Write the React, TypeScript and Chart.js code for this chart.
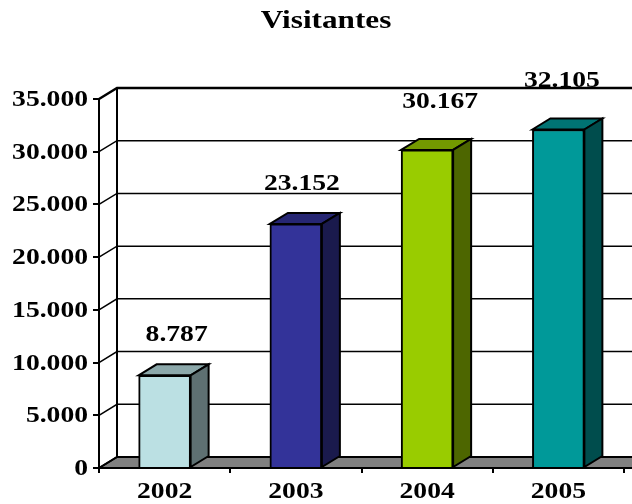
import React, { useEffect, useRef } from "react";
import { Chart, registerables } from "chart.js";

Chart.register(...registerables);

const categories = ["2002", "2003", "2004", "2005"];
const visitors = [8787, 23152, 30167, 32105];
const frontColors = ["#BBE0E3", "#333399", "#99CC00", "#009999"];
const topColors = ["#8CA8AA", "#262673", "#739900", "#007373"];
const sideColors = ["#5E7072", "#1A1A4D", "#4D6600", "#004D4D"];

const DEPTH_X = 18;
const DEPTH_Y = 11;
const FONT = "bold 23px 'Liberation Serif'";
const TITLE_FONT = "bold 26px 'Liberation Serif'";
const STRETCH = 1.2;
// label placement relative to each bar's top centre
const labelDx = [12, 6, 13, 3.5];
const labelDy = [40, 40, 48, 48];

const fmt = (v: number) => v.toLocaleString("de-DE");

function wideText(ctx: CanvasRenderingContext2D, text: string, x: number, y: number, font: string, align: CanvasTextAlign) {
  ctx.save();
  ctx.translate(x, y);
  ctx.scale(STRETCH, 1);
  ctx.font = font;
  ctx.fillStyle = "#000";
  ctx.textAlign = align;
  ctx.textBaseline = "middle";
  ctx.fillText(text, 0, 0);
  ctx.restore();
}

function poly(ctx: CanvasRenderingContext2D, pts: number[][], fill: string) {
  ctx.beginPath();
  pts.forEach((p, i) => (i ? ctx.lineTo(p[0], p[1]) : ctx.moveTo(p[0], p[1])));
  ctx.closePath();
  ctx.fillStyle = fill;
  ctx.fill();
  ctx.strokeStyle = "#000";
  ctx.lineWidth = 2;
  ctx.stroke();
}

const box3d = {
  id: "box3d",
  beforeDraw(chart: any) {
    const { ctx, scales } = chart;
    const { x, y } = scales;
    const w = chart.width + 30;
    ctx.save();
    const y0 = y.getPixelForValue(0);
    poly(ctx, [[x.left, y0], [x.left + DEPTH_X, y0 - DEPTH_Y], [w, y0 - DEPTH_Y], [w, y0]], "#808080");
    ctx.strokeStyle = "#000";
    y.ticks.forEach((t: any) => {
      const py = y.getPixelForValue(t.value);
      ctx.lineWidth = t.value === y.max ? 2.5 : 1.5;
      ctx.beginPath();
      ctx.moveTo(x.left, py);
      ctx.lineTo(x.left + DEPTH_X, py - DEPTH_Y);
      if (t.value !== 0) ctx.lineTo(w, py - DEPTH_Y);
      ctx.stroke();
    });
    ctx.lineWidth = 2;
    ctx.beginPath();
    ctx.moveTo(x.left + DEPTH_X, y.top - DEPTH_Y);
    ctx.lineTo(x.left + DEPTH_X, y0 - DEPTH_Y);
    ctx.stroke();
    ctx.restore();
  },
  afterDatasetsDraw(chart: any) {
    const { ctx } = chart;
    ctx.save();
    ctx.lineJoin = "miter";
    chart.getDatasetMeta(0).data.forEach((bar: any, i: number) => {
      const half = bar.width / 2;
      const l = bar.x - half;
      const r = bar.x + half;
      const t = bar.y;
      const b = bar.base;
      poly(ctx, [[l, t], [l + DEPTH_X, t - DEPTH_Y], [r + DEPTH_X, t - DEPTH_Y], [r, t]], topColors[i]);
      poly(ctx, [[r, t], [r + DEPTH_X, t - DEPTH_Y], [r + DEPTH_X, b - DEPTH_Y], [r, b]], sideColors[i]);
    });
    ctx.restore();
  },
  afterDraw(chart: any) {
    const { ctx, scales } = chart;
    const { x, y } = scales;
    y.ticks.forEach((t: any) => {
      wideText(ctx, t.label, 88, y.getPixelForValue(t.value) + 1, FONT, "right");
    });
    categories.forEach((c, i) => {
      wideText(ctx, c, x.getPixelForValue(i), 492, FONT, "center");
    });
    chart.getDatasetMeta(0).data.forEach((bar: any, i: number) => {
      wideText(ctx, fmt(visitors[i]), bar.x + labelDx[i], bar.y - labelDy[i], FONT, "center");
    });
    wideText(ctx, "Visitantes", chart.width / 2 + 10, 21, TITLE_FONT, "center");
  },
};

export default function App() {
  const ref = useRef<HTMLCanvasElement>(null);
  useEffect(() => {
    const chart = new Chart(ref.current!, {
      type: "bar",
      data: {
        labels: categories,
        datasets: [
          {
            data: visitors,
            backgroundColor: frontColors,
            borderColor: "#000",
            borderWidth: 2,
            barThickness: 52,
          },
        ],
      },
      options: {
        responsive: false,
        animation: false,
        layout: { padding: { left: 93, right: 8, top: 99, bottom: 31 } },
        plugins: { legend: { display: false }, tooltip: { enabled: false }, title: { display: false } },
        scales: {
          x: {
            grid: { drawOnChartArea: false, drawTicks: true, tickLength: 5, color: "#000", lineWidth: 2 },
            border: { color: "#000", width: 2 },
            ticks: { display: false },
          },
          y: {
            min: 0,
            max: 35000,
            grid: { drawOnChartArea: false, drawTicks: true, tickLength: 6, color: "#000", lineWidth: 2 },
            border: { color: "#000", width: 2 },
            ticks: { display: false, stepSize: 5000, callback: (v: any) => fmt(Number(v)) },
          },
        },
      },
      plugins: [box3d],
    } as any);
    return () => chart.destroy();
  }, []);
  return <canvas ref={ref} width={632} height={504} style={{ position: "fixed", left: 0, top: 0 }} />;
}
